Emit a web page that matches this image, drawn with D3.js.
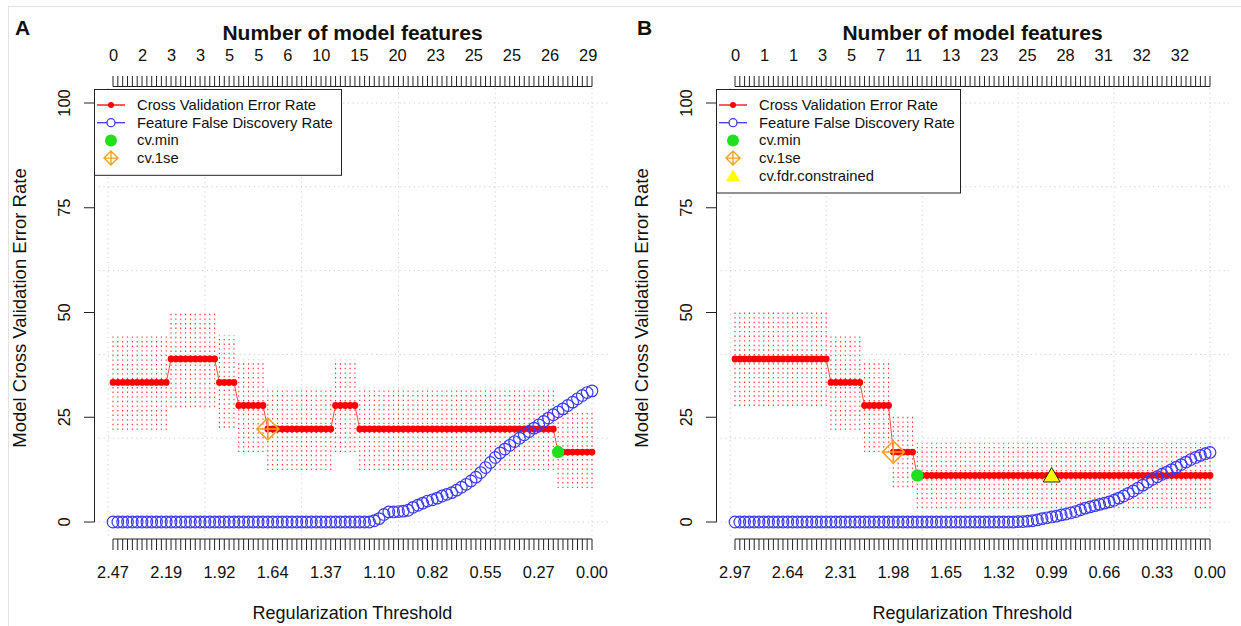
<!DOCTYPE html>
<html><head><meta charset="utf-8">
<script src="https://cdn.jsdelivr.net/npm/d3@7"></script>
<style>body{margin:0;background:#fff} text{font-family:"Liberation Sans",Arial,sans-serif;fill:#111}</style>
</head><body><svg id="c" width="1241" height="626"></svg>
<script>
const N = 100; // lambda values per panel (index 1..100)

// ---------- Panel A ----------
const cvLevelA = [33.3, 38.9, 33.3, 27.8, 22.2, 27.8, 22.2, 16.7];
const cvLowerA = [22.0, 27.4, 22.5, 16.7, 12.4, 16.7, 12.4, 8.1];
const cvUpperA = [44.6, 50.4, 44.6, 38.7, 32.2, 38.7, 32.2, 26.0];
const cvRunA   = [12, 10, 4, 6, 14, 5, 41, 8];
const fdrA = [
  0,0,0,0,0,0,0,0,0,0, 0,0,0,0,0,0,0,0,0,0,
  0,0,0,0,0,0,0,0,0,0, 0,0,0,0,0,0,0,0,0,0,
  0,0,0,0,0,0,0,0,0,0, 0,0,0,0,0.3,0.8,1.8,2.4,2.4,2.5,
  2.6,2.8,3.5,4.0,4.5,5.0,5.3,5.7,6.2,6.6, 7.0,7.6,8.3,9.0,9.8,10.7,11.8,13.0,14.2,15.4,
  16.5,17.4,18.3,19.2,20.0,20.8,21.6,22.4,23.2,24.0, 24.8,25.6,26.3,27.0,27.8,28.6,29.4,30.2,30.9,31.3
];
const topLabelsA = ["0","2","3","3","5","5","6","10","15","20","23","25","25","26","29"];
const bottomLabelsA = ["2.47","2.19","1.92","1.64","1.37","1.10","0.82","0.55","0.27","0.00"];
const cvMinIdxA = 93, cv1seIdxA = 33;

// ---------- Panel B ----------
const cvLevelB = [38.9, 33.3, 27.8, 16.7, 11.1];
const cvLowerB = [27.7, 22.0, 16.7, 8.3, 3.3];
const cvUpperB = [50.4, 44.6, 38.7, 25.8, 18.9];
const cvRunB   = [20, 7, 6, 5, 62];
const fdrB = [
  0,0,0,0,0,0,0,0,0,0, 0,0,0,0,0,0,0,0,0,0,
  0,0,0,0,0,0,0,0,0,0, 0,0,0,0,0,0,0,0,0,0,
  0,0,0,0,0,0,0,0,0,0, 0,0,0,0,0,0,0,0,0,0.1,
  0.1,0.2,0.3,0.5,0.8,1.0,1.2,1.4,1.7,1.9, 2.2,2.5,2.9,3.3,3.6,3.9,4.2,4.5,4.8,5.2,
  5.7,6.2,6.8,7.4,8.1,8.8,9.5,10.2,10.8,11.4, 11.9,12.5,13.1,13.7,14.3,14.9,15.4,15.9,16.3,16.6
];
const topLabelsB = ["0","1","1","3","5","7","11","13","23","25","28","31","32","32"];
const bottomLabelsB = ["2.97","2.64","2.31","1.98","1.65","1.32","0.99","0.66","0.33","0.00"];
const cvMinIdxB = 39, cv1seIdxB = 34, cvFdrIdxB = 67;

const yTicks = [0, 25, 50, 75, 100];
const gridY = [0, 20, 40, 60, 80, 100];
const gridX = [0, 20, 40, 60, 80, 100];
const legendA = ["Cross Validation Error Rate","Feature False Discovery Rate","cv.min","cv.1se"];
const legendB = ["Cross Validation Error Rate","Feature False Discovery Rate","cv.min","cv.1se","cv.fdr.constrained"];

const RED = "#ff0000", BLUE = "#3a3af0", GREEN = "#1fe01f", ORANGE = "#f5a21c", YELLOW = "#ffff00";
const svg = d3.select("#c");

// figure frame
svg.append("line").attr("x1",8).attr("x2",1241).attr("y1",6.5).attr("y2",6.5).attr("stroke","#e2e2e2");
svg.append("line").attr("x1",8.5).attr("x2",8.5).attr("y1",6).attr("y2",626).attr("stroke","#e2e2e2");

function expand(runs, vals){ const out=[]; runs.forEach((r,k)=>{ for(let j=0;j<r;j++) out.push(vals[k]); }); return out; }

function panel(o){
  const g = svg.append("g");
  const x = d3.scaleLinear().domain([1, N]).range([o.x0, o.x1]);
  const y = d3.scaleLinear().domain([0, 100]).range([522, 103]);
  const regL = o.x0 - 19, regR = o.x1 + 19, regT = 88, regB = 538;
  const idx = d3.range(1, N + 1);
  const cv = expand(o.runs, o.level), lo = expand(o.runs, o.lower), hi = expand(o.runs, o.upper);

  // grid
  g.selectAll(".gx").data(o.gridX).join("line")
    .attr("x1", d => x(d)).attr("x2", d => x(d)).attr("y1", regT).attr("y2", regB)
    .attr("stroke", "#cfcfcf").attr("stroke-dasharray", "1.2,3.5");
  g.selectAll(".gy").data(o.gridY).join("line")
    .attr("x1", regL).attr("x2", regR).attr("y1", d => y(d)).attr("y2", d => y(d))
    .attr("stroke", "#cfcfcf").attr("stroke-dasharray", "1.2,3.5");

  // error bars
  g.selectAll(".eb").data(idx).join("line")
    .attr("x1", d => x(d)).attr("x2", d => x(d))
    .attr("y1", d => y(lo[d-1])).attr("y2", d => y(hi[d-1]))
    .attr("stroke", "#ff2a2a").attr("stroke-width", 1.1).attr("stroke-dasharray", "1.4,3.2");

  // cv line
  g.append("path").datum(idx)
    .attr("d", d3.line().x(d => x(d)).y(d => y(cv[d-1])))
    .attr("fill", "none").attr("stroke", "#ff4a4a").attr("stroke-width", 1);
  g.selectAll(".cvp").data(idx).join("circle")
    .attr("cx", d => x(d)).attr("cy", d => y(cv[d-1])).attr("r", 3.4).attr("fill", RED);

  // fdr circles
  g.selectAll(".fd").data(idx).join("circle")
    .attr("cx", d => x(d)).attr("cy", d => y(o.fdr[d-1])).attr("r", 5.8)
    .attr("fill", "none").attr("stroke", BLUE).attr("stroke-width", 1.2);

  // markers
  diamond(g, x(o.cv1se), y(cv[o.cv1se-1]), 11, 1.6);
  g.append("circle").attr("cx", x(o.cvMin)).attr("cy", y(cv[o.cvMin-1])).attr("r", 6.2).attr("fill", GREEN);
  if (o.cvFdr) triangle(g, x(o.cvFdr), y(cv[o.cvFdr-1]), 8.5, true);

  // left axis
  g.append("line").attr("x1", regL+0.5).attr("x2", regL+0.5).attr("y1", y(0)).attr("y2", y(100)).attr("stroke", "#222");
  g.selectAll(".yt").data(yTicks).join("line")
    .attr("x1", regL - 10).attr("x2", regL+0.5).attr("y1", d => y(d)).attr("y2", d => y(d)).attr("stroke", "#222");
  g.selectAll(".yl").data(yTicks).join("text")
    .attr("transform", d => `translate(${regL - 30},${y(d)}) rotate(-90)`)
    .attr("text-anchor", "middle").attr("dominant-baseline", "central")
    .attr("font-size", 16.4).text(d => d);
  g.append("text").attr("transform", `translate(${regL - 75},308) rotate(-90)`)
    .attr("text-anchor", "middle").attr("dominant-baseline", "central")
    .attr("font-size", 18.5).text("Model Cross Validation Error Rate");

  // top axis
  g.append("line").attr("x1", x(1)).attr("x2", x(N)).attr("y1", regT-1.5).attr("y2", regT-1.5).attr("stroke", "#222");
  g.selectAll(".tt").data(idx).join("line")
    .attr("x1", d => x(d)).attr("x2", d => x(d)).attr("y1", regT-1.5).attr("y2", regT - 12).attr("stroke", "#222");
  // top labels laid out as one spaced string
  const tl = g.append("g");
  const tmp = tl.selectAll("text").data(o.topLabels).join("text").attr("font-size", 16.4).text(d => d);
  let cx = x(1) - 4;
  tmp.each(function(){ const w = this.getComputedTextLength(); d3.select(this).attr("x", cx).attr("y", 61); cx += w + 19.9; });
  g.append("text").attr("x", (x(1)+x(N))/2).attr("y", 39.5).attr("text-anchor", "middle")
    .attr("font-size", 21).attr("font-weight", "bold").text("Number of model features");

  // bottom axis
  g.append("line").attr("x1", x(1)).attr("x2", x(N)).attr("y1", regB+1).attr("y2", regB+1).attr("stroke", "#222");
  g.selectAll(".bt").data(idx).join("line")
    .attr("x1", d => x(d)).attr("x2", d => x(d)).attr("y1", regB+1).attr("y2", regB + 12).attr("stroke", "#222");
  g.selectAll(".bl").data(o.bottomLabels).join("text")
    .attr("x", (d, k) => x(1 + k * 11)).attr("y", 578).attr("text-anchor", "middle")
    .attr("font-size", 16.4).text(d => d);
  g.append("text").attr("x", (x(1)+x(N))/2).attr("y", 619).attr("text-anchor", "middle")
    .attr("font-size", 18).text("Regularization Threshold");

  // panel letter
  g.append("text").attr("x", o.letterX).attr("y", 35).attr("font-size", 21).attr("font-weight", "bold").text(o.letter);

  // legend
  const lg = g.append("g").attr("transform", `translate(${regL},${regT+1})`);
  const lh = 15 + o.legend.length * 17.7;
  lg.append("rect").attr("x", 0.5).attr("y", 0.5).attr("width", o.legendW).attr("height", lh)
    .attr("fill", "#fff").attr("stroke", "#222");
  o.legend.forEach((t, k) => {
    const cy = 16 + k * 17.7, sx = 17;
    if (k === 0) {
      lg.append("line").attr("x1", 3).attr("x2", 31).attr("y1", cy).attr("y2", cy).attr("stroke", RED).attr("stroke-width", 1.3);
      lg.append("circle").attr("cx", sx).attr("cy", cy).attr("r", 3).attr("fill", RED);
    } else if (k === 1) {
      lg.append("line").attr("x1", 3).attr("x2", 31).attr("y1", cy).attr("y2", cy).attr("stroke", BLUE).attr("stroke-width", 1.3);
      lg.append("circle").attr("cx", sx).attr("cy", cy).attr("r", 4).attr("fill", "#fff").attr("stroke", BLUE).attr("stroke-width", 1.3);
    } else if (k === 2) {
      lg.append("circle").attr("cx", sx).attr("cy", cy).attr("r", 6).attr("fill", GREEN);
    } else if (k === 3) {
      diamond(lg, sx, cy, 7, 1.4);
    } else {
      triangle(lg, sx, cy, 7, false);
    }
    lg.append("text").attr("x", 43).attr("y", cy).attr("dominant-baseline", "central")
      .attr("font-size", 14.8).text(t);
  });
}

function diamond(g, cx, cy, r, sw){
  g.append("path").attr("d", `M${cx},${cy-r}L${cx+r},${cy}L${cx},${cy+r}L${cx-r},${cy}Z M${cx-r},${cy}H${cx+r} M${cx},${cy-r}V${cy+r}`)
    .attr("fill", "none").attr("stroke", ORANGE).attr("stroke-width", sw);
}
function triangle(g, cx, cy, r, border){
  const h = r * 1.7;
  g.append("path").attr("d", `M${cx},${cy-h*0.55}L${cx+r},${cy+h*0.45}L${cx-r},${cy+h*0.45}Z`)
    .attr("fill", YELLOW).attr("stroke", border ? "#222" : "none").attr("stroke-width", 1);
}

panel({x0:113, x1:592, runs:cvRunA, level:cvLevelA, lower:cvLowerA, upper:cvUpperA, fdr:fdrA,
  topLabels:topLabelsA, bottomLabels:bottomLabelsA, cvMin:cvMinIdxA, cv1se:cv1seIdxA, cvFdr:null,
  gridX, gridY, legend:legendA, legendW:247, letter:"A", letterX:15});
panel({x0:735, x1:1210, runs:cvRunB, level:cvLevelB, lower:cvLowerB, upper:cvUpperB, fdr:fdrB,
  topLabels:topLabelsB, bottomLabels:bottomLabelsB, cvMin:cvMinIdxB, cv1se:cv1seIdxB, cvFdr:cvFdrIdxB,
  gridX, gridY, legend:legendB, legendW:244, letter:"B", letterX:637});
</script></body></html>
